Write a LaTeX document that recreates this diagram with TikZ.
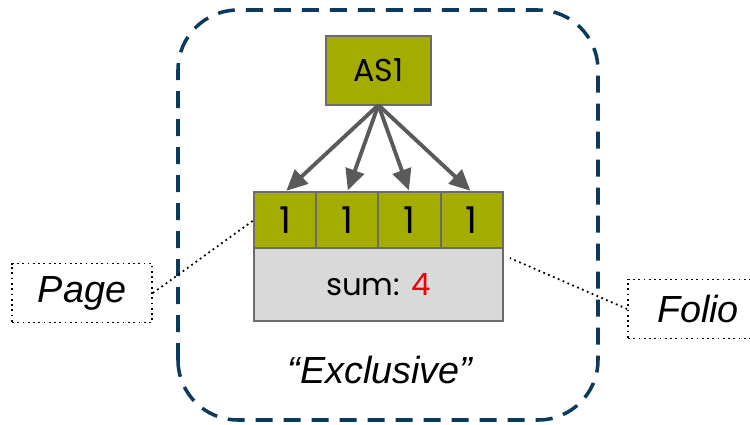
\documentclass[tikz,border=0pt]{standalone}
\usepackage{fontspec}
\setmainfont{Liberation Sans}
\newfontfamily\boxfont{Poppins}
\usepackage{xcolor}
\usetikzlibrary{arrows.meta,positioning}

\definecolor{olive}{HTML}{A4AC00}
\definecolor{edgegray}{HTML}{6B6B6B}
\definecolor{arrowgray}{HTML}{5A5A5A}
\definecolor{sumgray}{HTML}{D9D9D9}
\definecolor{navy}{HTML}{0B3A5C}
\definecolor{sumred}{HTML}{E8000B}

\begin{document}
\begin{tikzpicture}[
    node distance=0pt,
    cell/.style={rectangle, draw=edgegray, line width=1pt, outer sep=0pt, fill=olive, minimum width=1.245cm, minimum height=1.12cm, font=\boxfont\fontsize{21}{24}\selectfont},
    arrow/.style={-{Triangle[length=0.42cm, width=0.38cm]}, draw=arrowgray, line width=2.2pt, shorten >=1pt},
    tag/.style={rectangle, draw, dotted, line width=1pt, minimum width=2.8cm, minimum height=1.18cm, font=\fontsize{21.5}{24}\selectfont\itshape},
    leader/.style={dotted, line width=1pt}
]
\useasboundingbox (0,0) rectangle (15,8.48);

% dashed group
\draw[navy, line width=2pt, dash pattern=on 0.34cm off 0.22cm, rounded corners=1.2cm]
    (3.56,0.08) rectangle (11.96,8.28);

% counters
\node[cell] (c1) at (5.70,4.08) {1};
\node[cell, right=of c1] (c2) {1};
\node[cell, right=of c2] (c3) {1};
\node[cell, right=of c3] (c4) {1};
\node[rectangle, draw=edgegray, line width=1pt, outer sep=0pt, fill=sumgray, minimum width=4.98cm, minimum height=1.46cm, below=of c2.south east, anchor=north, font=\boxfont\fontsize{17.5}{20}\selectfont] (sum) {sum: \textcolor{sumred}{4}};
\node[cell, above=1.74cm of c2.north east, anchor=south, minimum width=2.1cm, minimum height=1.38cm, font=\boxfont\fontsize{18}{20}\selectfont] (as1) {AS1};

\foreach \c in {c1,c2,c3,c4}
    \draw[arrow] (as1.south) -- (\c.north);

\node[font=\fontsize{21.5}{24}\selectfont\itshape] (excl) at (7.6,1.08) {``Exclusive''};

% labels
\node[tag] (page) at (1.64,2.62) {Page};
\node[tag] (folio) at (13.96,2.30) {Folio};
\draw[leader] (page.east) -- (c1.west);
\draw[leader] (folio.west) -- ([xshift=0.14cm,yshift=-0.2cm]sum.north east);
\end{tikzpicture}
\end{document}
